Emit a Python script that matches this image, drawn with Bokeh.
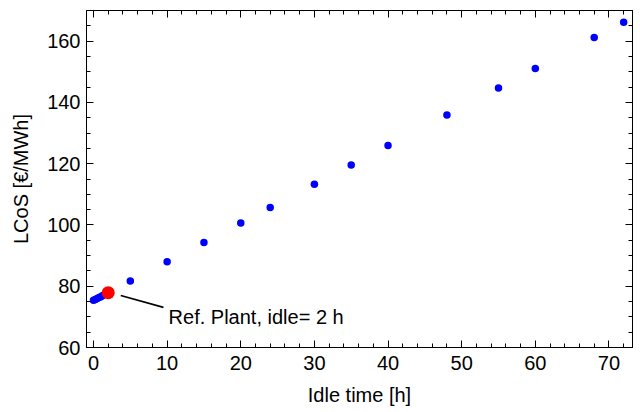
from bokeh.plotting import figure
from bokeh.models import Range1d, LinearAxis, SingleIntervalTicker, ColumnDataSource
from bokeh.core.properties import value
from bokeh.embed import file_html
from bokeh.resources import INLINE

# Data
idle_time = [0, 0.25, 0.5, 0.75, 1.0, 1.25, 1.5, 5, 10, 15, 20, 24, 30, 35, 40, 48, 55, 60, 68, 72]
lcos = [75.4, 75.7, 76.0, 76.3, 76.6, 77.0, 77.3, 81.7, 88.0, 94.3, 100.6, 105.7, 113.3, 119.6, 125.9, 135.9, 144.7, 151.1, 161.2, 166.2]
ref_idle = [2]
ref_lcos = [77.9]
ref_label = ["Ref. Plant, idle= 2 h"]

# tick positions
x_ticks = [0, 10, 20, 30, 40, 50, 60, 70]
y_ticks = [60, 80, 100, 120, 140, 160]

# annotation layout (data units)
leader_x = [3.7, 9.5]
leader_y = [77.0, 73.1]
label_x = [10.2]
label_y = [70.1]

FONT = "Liberation Sans"
FS = "20px"

p = figure(width=640, height=412, output_backend="svg", toolbar_location=None,
           x_range=Range1d(-0.95, 73.2), y_range=Range1d(60, 170),
           min_border_left=86, min_border_right=8, min_border_top=10, min_border_bottom=65,
           x_axis_label="Idle time [h]", y_axis_label="LCoS [€/MWh]")
p.grid.visible = False
p.outline_line_color = "black"
p.outline_line_width = 1
p.background_fill_color = "white"
p.border_fill_color = "white"

def style(ax):
    ax.axis_line_color = "black"
    ax.major_tick_in = 7
    ax.major_tick_out = 0
    ax.minor_tick_in = 4
    ax.minor_tick_out = 0
    ax.major_tick_line_color = "black"
    ax.minor_tick_line_color = "black"
    ax.major_label_text_font = FONT
    ax.axis_label_text_font = FONT
    ax.axis_label_text_font_style = "normal"
    ax.axis_label_text_color = "black"
    ax.major_label_text_color = "black"
    ax.major_label_text_font_size = FS
    ax.axis_label_text_font_size = FS

p.xaxis.ticker = SingleIntervalTicker(interval=10, num_minor_ticks=5)
p.yaxis.ticker = SingleIntervalTicker(interval=20, num_minor_ticks=4)
for ax in p.xaxis:
    style(ax)
    ax.major_label_standoff = 8
    ax.axis_label_standoff = 11
for ax in p.yaxis:
    style(ax)
    ax.major_label_standoff = 6
    ax.axis_label_standoff = 12

top = LinearAxis(ticker=SingleIntervalTicker(interval=10, num_minor_ticks=5))
style(top)
top.major_label_overrides = {t: "" for t in x_ticks}
top.major_label_text_font_size = "1px"
top.major_label_standoff = 0
p.add_layout(top, "above")

right = LinearAxis(ticker=SingleIntervalTicker(interval=20, num_minor_ticks=4))
style(right)
right.major_label_overrides = {t: "" for t in y_ticks}
right.major_label_text_font_size = "1px"
right.major_label_standoff = 0
p.add_layout(right, "right")

src = ColumnDataSource(dict(x=idle_time, y=lcos))
p.scatter("x", "y", source=src, size=7.5, fill_color="#0000FF", line_color=None)

p.line(leader_x, leader_y, line_color="black", line_width=1.6)
p.scatter(ref_idle, ref_lcos, size=13, fill_color="#FF0000", line_color=None)
p.text(label_x, label_y, text=ref_label, text_font=value(FONT), text_font_size=FS,
       text_color="black", text_baseline="alphabetic", text_align="left")

open("out.html", "w").write(file_html(p, INLINE))
